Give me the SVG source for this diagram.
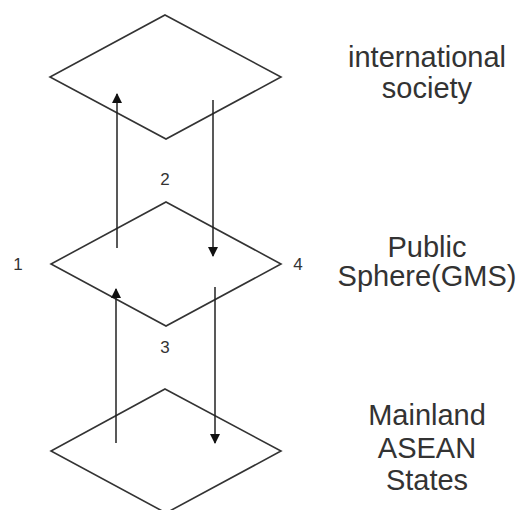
<svg xmlns="http://www.w3.org/2000/svg" width="521" height="510" viewBox="0 0 521 510">
  <style>
    .plane { fill: #ffffff; stroke: #333333; stroke-width: 1.6; stroke-linejoin: miter; }
    .flow { fill: none; stroke: #222222; stroke-width: 1.5; marker-end: url(#head); }
    .level { font-family: "Liberation Sans", Arial, sans-serif; font-size: 29px; fill: #333333; text-anchor: middle; }
    .num { font-family: "Liberation Sans", Arial, sans-serif; font-size: 17px; fill: #333333; text-anchor: middle; }
  </style>
  <defs>
    <marker id="head" viewBox="0 0 10 10" refX="9" refY="5" markerWidth="11" markerHeight="10" markerUnits="userSpaceOnUse" orient="auto">
      <path d="M0,0 L10,5 L0,10 z" fill="#111111"/>
    </marker>
  </defs>
  <rect width="521" height="510" fill="#ffffff"/>

  <g id="international-society">
    <polygon class="plane" points="165,15 281,77 166,139 50,77"/>
    <text class="level" x="427" y="67">international</text>
    <text class="level" x="427" y="98">society</text>
  </g>

  <g id="public-sphere">
    <polygon class="plane" points="166,202 281,264 166,326 51,264"/>
    <text class="level" x="427" y="257">Public</text>
    <text class="level" x="427" y="286">Sphere(GMS)</text>
  </g>

  <g id="mainland-asean">
    <polygon class="plane" points="165,389 281,451 166,513 51,451"/>
    <text class="level" x="427" y="425">Mainland</text>
    <text class="level" x="427" y="458">ASEAN</text>
    <text class="level" x="427" y="490">States</text>
  </g>

  <g id="corner-labels">
    <text class="num" x="18" y="270">1</text>
    <text class="num" x="165" y="185">2</text>
    <text class="num" x="165" y="353">3</text>
    <text class="num" x="298" y="270">4</text>
  </g>

  <g id="connectors">
    <line class="flow" x1="117" y1="248" x2="117" y2="94"/>
    <line class="flow" x1="213" y1="100" x2="213" y2="256"/>
    <line class="flow" x1="116" y1="443" x2="116" y2="289"/>
    <line class="flow" x1="215" y1="287" x2="215" y2="443"/>
  </g>
</svg>
